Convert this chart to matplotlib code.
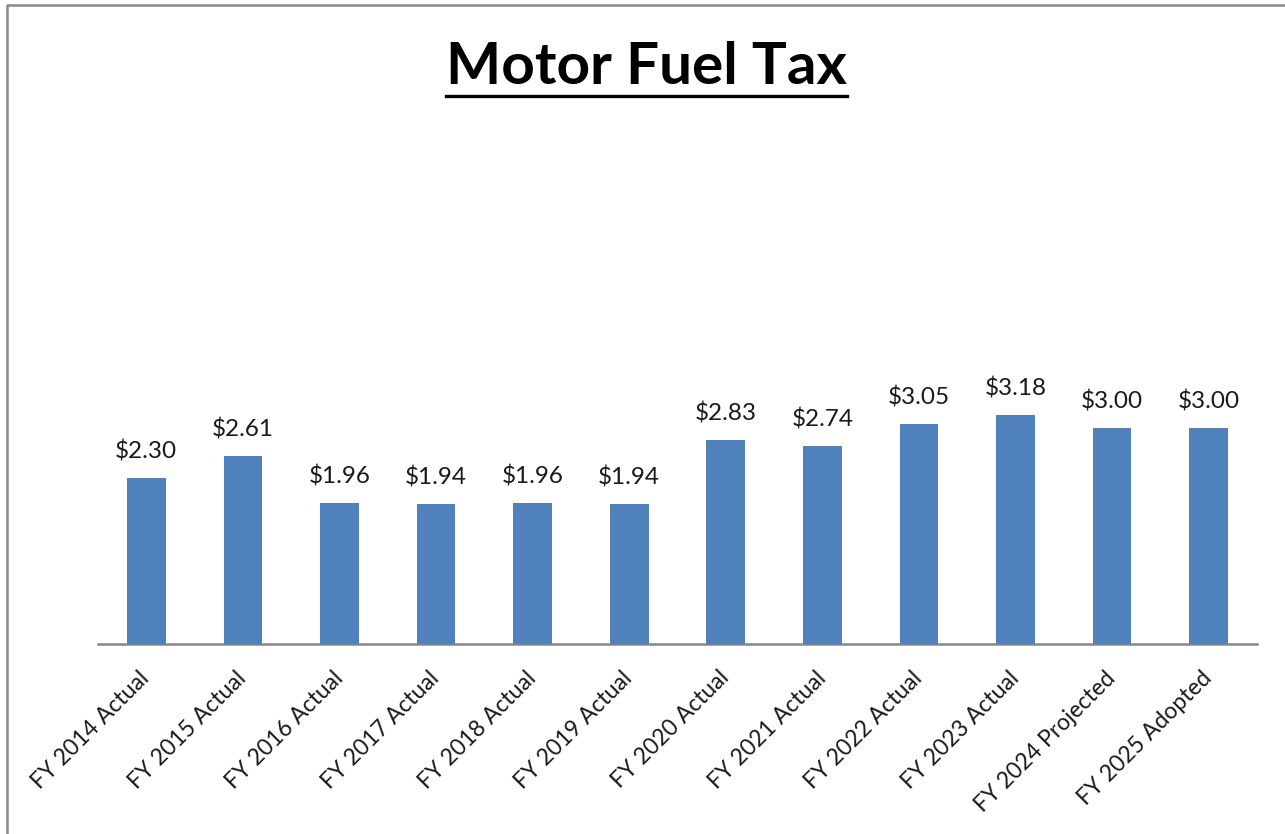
import numpy as np
import matplotlib
matplotlib.use('Agg')
import matplotlib.pyplot as plt
from matplotlib.lines import Line2D

categories = ['FY 2014 Actual', 'FY 2015 Actual', 'FY 2016 Actual', 'FY 2017 Actual',
              'FY 2018 Actual', 'FY 2019 Actual', 'FY 2020 Actual', 'FY 2021 Actual',
              'FY 2022 Actual', 'FY 2023 Actual', 'FY 2024 Projected', 'FY 2025 Adopted']
values = [2.30, 2.61, 1.96, 1.94, 1.96, 1.94, 2.83, 2.74, 3.05, 3.18, 3.00, 3.00]
title = 'Motor Fuel Tax'

plt.rcParams['font.family'] = ['Lato', 'DejaVu Sans']

fig = plt.figure(figsize=(12.85, 8.34), dpi=100)
ax = fig.add_axes([98/1285, 1-644/834, (1257-98)/1285, (644-211)/834])

x = np.arange(len(categories))
ax.bar(x, values, width=0.4, color='#4F81BD', zorder=3)
for xi, v in zip(x, values):
    ax.annotate('$%.2f' % v, (xi, v), xytext=(0, 11), textcoords='offset points',
                ha='center', va='bottom', fontsize=17.5, color='#1a1a1a')

ax.set_xlim(-0.5, len(categories)-0.5)
ax.set_ylim(0, 6)
for s in ['top', 'right', 'left']:
    ax.spines[s].set_visible(False)
ax.spines['bottom'].set_color('#868686')
ax.spines['bottom'].set_linewidth(1.8)
ax.set_yticks([])
ax.set_xticks(x)
ax.set_xticklabels(categories, rotation=45, ha='right', va='center', rotation_mode='anchor',
                   fontsize=16.5, color='#1a1a1a')
ax.tick_params(axis='x', length=0, pad=22)

# title with underline
t = fig.text(646/1285, 1-68/834, title, ha='center', va='center', fontsize=42,
             fontweight='bold', color='black')
fig.canvas.draw()
bb = t.get_window_extent()
x0, x1 = bb.x0/1285, bb.x1/1285
fig.add_artist(Line2D([x0, x1], [1-96/834, 1-96/834], color='black', lw=2.4))

# outer frame
fig.add_artist(Line2D([7/1285, 7/1285, 1.0], [0, 1-5/834, 1-5/834], color='#888888', lw=1.8))

fig.savefig('out.png', dpi=100)
